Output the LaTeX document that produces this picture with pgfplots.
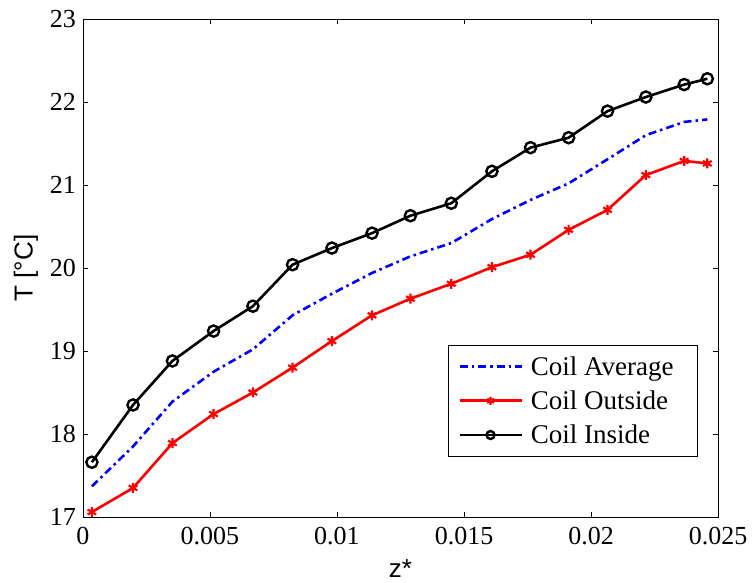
\documentclass[border=0pt]{standalone}
\usepackage{fontspec}
\setmainfont{Liberation Serif}
\setsansfont{Liberation Sans}
\usepackage{pgfplots}
\pgfplotsset{compat=1.18}
\begin{document}
\begin{tikzpicture}
\begin{axis}[
  scale only axis,
  width=635pt, height=498pt,
  xmin=0, xmax=0.025, ymin=17, ymax=23,
  xtick={0,0.005,0.01,0.015,0.02,0.025},
  xticklabels={0,0.005,0.01,0.015,0.02,0.025},
  scaled x ticks=false,
  ytick={17,18,19,20,21,22,23},
  tick align=inside,
  major tick length=5pt,
  tick style={black, line width=0.8pt},
  axis line style={black, line width=0.9pt},
  /pgf/number format/assume math mode=true,
  tick label style={font=\fontsize{26}{28}\selectfont\rmfamily},
  xticklabel style={inner sep=0pt, yshift=-10pt},
  yticklabel style={inner sep=0pt, xshift=-7pt},
  xlabel={z*}, ylabel={T [°C]},
  every axis x label/.style={at={(axis description cs:0.5,-0.1205)}, anchor=base, font=\fontsize{26}{28}\selectfont\sffamily},
  every axis y label/.style={at={(axis description cs:-0.0898,0.5)}, rotate=90, anchor=center, font=\fontsize{26}{28}\selectfont\sffamily},
  legend cell align=left,
  legend style={at={(0.9685,0.3454)}, anchor=north east, draw=black, line width=0.9pt,
    font=\fontsize{27}{29}\selectfont\rmfamily, inner xsep=10pt, inner ysep=9pt,
    row sep=10pt},
  legend image code/.code={\draw[mark repeat=2, mark phase=2, #1, mark size=4pt] plot coordinates {(0pt,0pt)(31pt,0pt)(62pt,0pt)};
    \path (68pt,0pt);},
]
\addplot[blue, line width=2.6pt, dash pattern=on 8pt off 4pt on 2.5pt off 4pt] coordinates {
(0.00035,17.37)(0.00197,17.85)(0.00352,18.39)(0.00514,18.75)(0.00669,19.02)(0.00825,19.43)
(0.0098,19.69)(0.01138,19.94)(0.01289,20.14)(0.0145,20.30)(0.0161,20.59)(0.01762,20.82)
(0.01912,21.02)(0.02065,21.31)(0.02216,21.60)(0.02367,21.76)(0.02458,21.79)};
\addlegendentry{Coil Average\hspace*{12pt}}
\addplot[red, line width=2.6pt, mark=asterisk, mark size=5pt, mark options={line width=2.2pt, solid}] coordinates {
(0.00035,17.06)(0.00197,17.35)(0.00352,17.89)(0.00514,18.24)(0.00669,18.50)(0.00825,18.80)
(0.0098,19.12)(0.01138,19.43)(0.01289,19.63)(0.0145,19.81)(0.0161,20.01)(0.01762,20.16)
(0.01912,20.46)(0.02065,20.70)(0.02216,21.12)(0.02367,21.29)(0.02458,21.26)};
\addlegendentry{Coil Outside}
\addplot[black, line width=2.6pt, mark=o, mark size=5.6pt, mark options={line width=2.4pt, solid, fill=none}] coordinates {
(0.00035,17.66)(0.00197,18.35)(0.00352,18.88)(0.00514,19.24)(0.00669,19.54)(0.00825,20.04)
(0.0098,20.24)(0.01138,20.42)(0.01289,20.63)(0.0145,20.78)(0.0161,21.165)(0.01762,21.45)
(0.01912,21.57)(0.02065,21.89)(0.02216,22.06)(0.02367,22.21)(0.02458,22.28)};
\addlegendentry{Coil Inside}
\end{axis}
\pgfresetboundingbox
\path[use as bounding box] (-83pt,-66pt) rectangle (670pt,517pt);
\end{tikzpicture}
\end{document}
